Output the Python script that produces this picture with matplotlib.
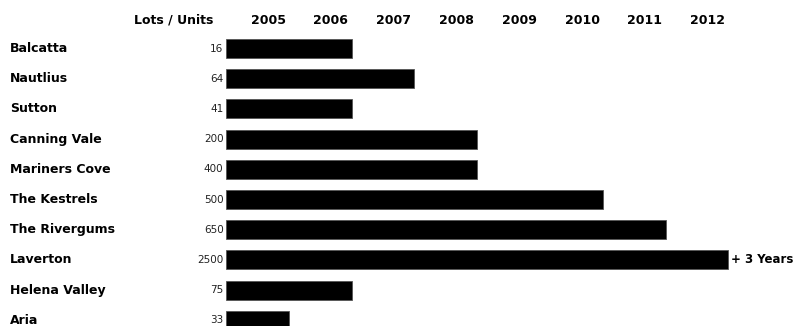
import matplotlib.pyplot as plt

# Project schedule: lots per estate and development period
projects = ["Balcatta", "Nautlius", "Sutton", "Canning Vale", "Mariners Cove",
            "The Kestrels", "The Rivergums", "Laverton", "Helena Valley", "Aria"]
lots = ["16", "64", "41", "200", "400", "500", "650", "2500", "75", "33"]
start_year = [2005, 2005, 2005, 2005, 2005, 2005, 2005, 2005, 2005, 2005]
end_year = [2007, 2008, 2007, 2009, 2009, 2011, 2012, 2013, 2007, 2006]
years = [2005, 2006, 2007, 2008, 2009, 2010, 2011, 2012]
notes = {"Laverton": "+ 3 Years"}

fig = plt.figure(figsize=(8.03, 3.26), dpi=100)
fig.patch.set_facecolor("white")
ax = fig.add_axes([0, 0, 1, 1])
ax.set_xlim(2001.40, 2014.19)
ax.set_ylim(9.19, -1.61)
ax.axis("off")

rows = list(range(len(projects)))
durations = [e - s for s, e in zip(start_year, end_year)]
ax.barh(rows, durations, left=start_year, height=0.63,
        color="black", edgecolor="#555555", linewidth=0.6)

# header row
ax.text(2004.80, -0.94, "Lots / Units", ha="right", va="center",
        fontsize=9, fontweight="bold")
for yr in years:
    ax.text(yr + 0.67, -0.94, str(yr), ha="center", va="center",
            fontsize=9, fontweight="bold")

# project names, lot counts and notes
for i, name in enumerate(projects):
    ax.text(2001.56, i, name, ha="left", va="center",
            fontsize=9, fontweight="bold")
    ax.text(2004.96, i, lots[i], ha="right", va="center",
            fontsize=7.5, color="#222222")
    if name in notes:
        ax.text(end_year[i] + 0.04, i, notes[name], ha="left", va="center",
                fontsize=8.5, fontweight="bold")

fig.savefig("out.png", dpi=100, facecolor="white")
